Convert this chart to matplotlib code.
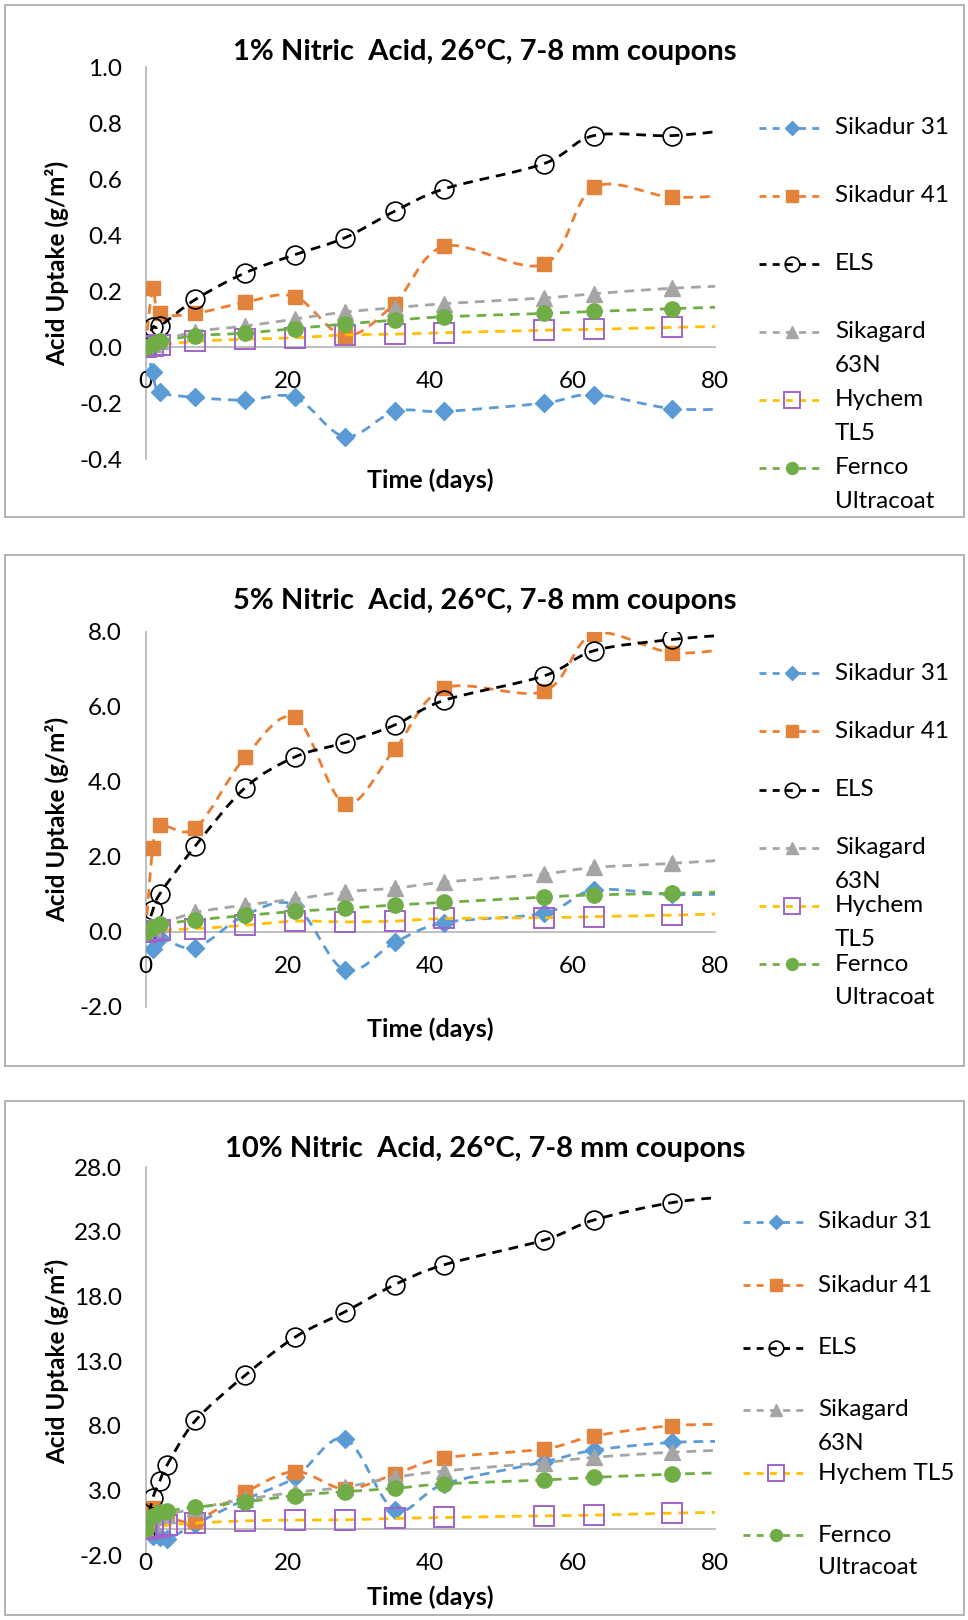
import numpy as np
import matplotlib
matplotlib.use("Agg")
import matplotlib.pyplot as plt
from matplotlib.path import Path
from matplotlib.patches import PathPatch, Rectangle
from matplotlib.lines import Line2D

plt.rcParams['font.family'] = ['Lato', 'DejaVu Sans']
plt.rcParams['axes.unicode_minus'] = False
plt.rcParams['lines.scale_dashes'] = False

# --- data ---
# the last point of each series lies beyond the 80-day axis limit (line runs off the plot)
days_a = [0, 1, 2, 7, 14, 21, 28, 35, 42, 56, 63, 74, 84]
days_b = [0, 1, 2, 3, 7, 14, 21, 28, 35, 42, 56, 63, 74, 84]

# 1% nitric acid
s31_1 = [0, -0.09, -0.16, -0.18, -0.19, -0.18, -0.32, -0.23, -0.23, -0.20, -0.17, -0.22, -0.22]
s41_1 = [0, 0.21, 0.12, 0.12, 0.16, 0.18, 0.04, 0.155, 0.36, 0.295, 0.57, 0.535, 0.545]
els_1 = [0, 0.07, 0.075, 0.17, 0.265, 0.33, 0.39, 0.485, 0.565, 0.655, 0.755, 0.755, 0.78]
sg_1 = [0, 0.01, 0.02, 0.055, 0.075, 0.10, 0.125, 0.14, 0.155, 0.175, 0.19, 0.21, 0.22]
hy_1 = [0, 0.004, 0.007, 0.02, 0.028, 0.033, 0.043, 0.046, 0.051, 0.06, 0.063, 0.07, 0.075]
fe_1 = [0, 0.01, 0.02, 0.04, 0.05, 0.066, 0.082, 0.096, 0.108, 0.12, 0.127, 0.137, 0.145]

# 5% nitric acid
s31_5 = [0, -0.45, -0.15, -0.42, 0.45, 0.7, -1.02, -0.28, 0.25, 0.5, 1.12, 1.0, 1.02]
s41_5 = [0, 2.25, 2.85, 2.77, 4.67, 5.72, 3.42, 4.87, 6.5, 6.42, 7.95, 7.45, 7.6]
els_5 = [0, 0.58, 1.02, 2.3, 3.85, 4.67, 5.05, 5.52, 6.18, 6.83, 7.5, 7.8, 7.95]
sg_5 = [0, 0.1, 0.2, 0.52, 0.72, 0.88, 1.07, 1.17, 1.33, 1.55, 1.72, 1.83, 1.95]
hy_5 = [0, 0.03, 0.05, 0.09, 0.18, 0.29, 0.27, 0.29, 0.36, 0.38, 0.41, 0.45, 0.5]
fe_5 = [0, 0.12, 0.2, 0.32, 0.44, 0.55, 0.63, 0.72, 0.79, 0.93, 0.99, 1.03, 1.08]

# 10% nitric acid
s31_10 = [0, -0.5, -0.6, -0.8, 0.4, 2.3, 4.0, 7.0, 1.5, 3.5, 5.2, 6.1, 6.7, 6.8]
s41_10 = [0, 1.6, 1.3, 1.0, 0.65, 2.85, 4.45, 3.1, 4.25, 5.5, 6.2, 7.2, 8.0, 8.1]
els_10 = [0, 2.4, 3.75, 4.95, 8.4, 11.9, 14.85, 16.8, 18.9, 20.45, 22.35, 23.9, 25.25, 25.8]
sg_10 = [0, 0.5, 0.9, 1.1, 1.6, 2.3, 2.85, 3.25, 4.0, 4.5, 5.15, 5.55, 5.95, 6.15]
hy_10 = [0, 0.1, 0.2, 0.3, 0.47, 0.64, 0.7, 0.72, 0.83, 0.9, 1.03, 1.08, 1.24, 1.32]
fe_10 = [0, 1.0, 1.3, 1.4, 1.7, 2.1, 2.6, 2.9, 3.15, 3.5, 3.8, 4.0, 4.25, 4.4]

titles = ['1% Nitric  Acid, 26°C, 7-8 mm coupons',
          '5% Nitric  Acid, 26°C, 7-8 mm coupons',
          '10% Nitric  Acid, 26°C, 7-8 mm coupons']
y_ticks_1 = [-0.4, -0.2, 0.0, 0.2, 0.4, 0.6, 0.8, 1.0]
y_ticks_5 = [-2.0, 0.0, 2.0, 4.0, 6.0, 8.0]
y_ticks_10 = [-2.0, 3.0, 8.0, 13.0, 18.0, 23.0, 28.0]
x_ticks = [0, 20, 40, 60, 80]
labels_ab = ['Sikadur 31', 'Sikadur 41', 'ELS', 'Sikagard\n63N', 'Hychem\nTL5', 'Fernco\nUltracoat']
labels_c = ['Sikadur 31', 'Sikadur 41', 'ELS', 'Sikagard\n63N', 'Hychem TL5', 'Fernco\nUltracoat']

# --- styles ---
styles = [
    dict(lc='#5B9BD5', marker='D', mfc='#5B9BD5', mec='#5B9BD5', ms=9, mew=1),
    dict(lc='#ED7D31', marker='s', mfc='#E3823A', mec='#E3823A', ms=10.5, mew=1),
    dict(lc='black', marker='o', mfc='none', mec='black', ms=13.5, mew=1.2),
    dict(lc='#A5A5A5', marker='^', mfc='#A5A5A5', mec='#A5A5A5', ms=11, mew=1),
    dict(lc='#FFC000', marker='s', mfc='none', mec='#A064C8', ms=14, mew=1.4),
    dict(lc='#70AD47', marker='o', mfc='#70AD47', mec='#70AD47', ms=11, mew=1),
]
dash = (0, (7, 5))
W, H = 968, 1620


def fx(px):
    return px / W


def fy(py):
    return 1 - py / H


def smooth_path(x, y):
    # Excel-style smoothed line: cubic Bezier through the data points
    pts = np.column_stack([x, y]).astype(float)
    n = len(pts)
    verts = [pts[0]]
    codes = [Path.MOVETO]
    for i in range(n - 1):
        p0 = pts[i - 1] if i > 0 else pts[i]
        p1 = pts[i]
        p2 = pts[i + 1]
        p3 = pts[i + 2] if i + 2 < n else pts[i + 1]
        verts += [p1 + (p2 - p0) / 6, p2 - (p3 - p1) / 6, p2]
        codes += [Path.CURVE4] * 3
    return Path(verts, codes)


panels = [
    dict(days=days_a, series=[s31_1, s41_1, els_1, sg_1, hy_1, fe_1], yticks=y_ticks_1,
         box=(5, 5, 964, 517), plot=(67, 459), title_y=52, xlabel_y=480,
         labels=labels_ab, leg_y=[128, 196, 264, 332, 400, 468], leg_x=(759, 824, 835)),
    dict(days=days_a, series=[s31_5, s41_5, els_5, sg_5, hy_5, fe_5], yticks=y_ticks_5,
         box=(5, 555, 964, 1066), plot=(632, 1007), title_y=601, xlabel_y=1029,
         labels=labels_ab, leg_y=[673, 731, 790, 848, 906, 964], leg_x=(759, 824, 835)),
    dict(days=days_b, series=[s31_10, s41_10, els_10, sg_10, hy_10, fe_10], yticks=y_ticks_10,
         box=(5, 1101, 964, 1615), plot=(1167, 1555), title_y=1149, xlabel_y=1597,
         labels=labels_c, leg_y=[1222, 1285, 1348, 1410, 1473, 1535], leg_x=(743, 809, 818)),
]

fig = plt.figure(figsize=(W / 100, H / 100), dpi=100)
ax_left, ax_right = 145.7, 714.8

for p, title in zip(panels, titles):
    # outer chart frame
    x0, y0, x1, y1 = p['box']
    fig.add_artist(Rectangle((fx(x0), fy(y1)), fx(x1 - x0), (y1 - y0) / H,
                             transform=fig.transFigure, fill=False, ec='#A6A6A6', lw=1.2))
    top, bot = p['plot']
    ax = fig.add_axes([fx(ax_left), fy(bot), fx(ax_right - ax_left), (bot - top) / H])
    for k, (vals, st) in enumerate(zip(p['series'], styles)):
        patch = PathPatch(smooth_path(p['days'], vals), fill=False, ec=st['lc'], lw=2,
                          ls=dash, zorder=3 + 2 * k)
        ax.add_patch(patch)
        ax.plot(p['days'], vals, ls='none', marker=st['marker'], ms=st['ms'], mfc=st['mfc'],
                mec=st['mec'], mew=st['mew'], zorder=4 + 2 * k)
    ax.set_xlim(0, 80)
    ax.set_ylim(p['yticks'][0], p['yticks'][-1])
    ax.set_xticks(x_ticks)
    ax.set_yticks(p['yticks'])
    ax.set_yticklabels(['%.1f' % v for v in p['yticks']])
    ax.tick_params(length=0, labelsize=17.5, colors='black')
    ax.tick_params(axis='y', pad=17)
    ax.tick_params(axis='x', pad=17)
    for s in ['top', 'right']:
        ax.spines[s].set_visible(False)
    ax.spines['bottom'].set_position(('data', 0))
    for s in ['left', 'bottom']:
        ax.spines[s].set_color('#B4B4B4')
        ax.spines[s].set_linewidth(1.2)
        ax.spines[s].set_zorder(1)
    ax.patch.set_alpha(0)

    fig.text(fx(485), fy(p['title_y']), title, ha='center', va='center', fontsize=21,
             fontweight='bold')
    fig.text(fx(57), fy((top + bot) / 2), 'Acid Uptake (g/m²)', rotation=90, ha='center',
             va='center', fontsize=17.5, fontweight='bold')
    fig.text(fx(430), fy(p['xlabel_y']), 'Time (days)', ha='center', va='center',
             fontsize=18, fontweight='bold')

    # legend, drawn by hand
    hx0, hx1, tx = p['leg_x']
    for yy, lab, st in zip(p['leg_y'], p['labels'], styles):
        fig.add_artist(Line2D([fx(hx0), fx(hx1)], [fy(yy), fy(yy)], transform=fig.transFigure,
                              color=st['lc'], lw=2, ls=(0, (5, 4.5))))
        fig.add_artist(Line2D([fx((hx0 + hx1) / 2)], [fy(yy)], transform=fig.transFigure,
                              ls='none', marker=st['marker'], ms=st['ms'] * 0.78, mfc=st['mfc'],
                              mec=st['mec'], mew=st['mew']))
        for j, line in enumerate(lab.split('\n')):
            fig.text(fx(tx), fy(yy + 33 * j), line, ha='left', va='center', fontsize=17.5)

fig.savefig('out.png', dpi=100)
